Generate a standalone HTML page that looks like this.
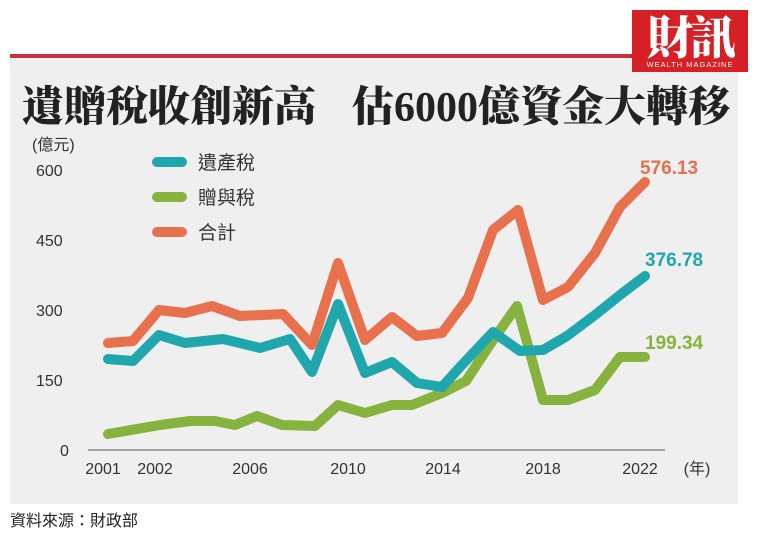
<!DOCTYPE html>
<html><head><meta charset="utf-8"><style>
body{margin:0;width:763px;height:539px;background:#fff;position:relative;overflow:hidden;font-family:"Liberation Sans","Noto Sans CJK TC",sans-serif}
.panel{position:absolute;left:10px;top:56px;width:728px;height:448px;background:#efefef}
.red{position:absolute;left:10px;top:54px;width:630px;height:4px;background:#c8303a}
.logo{position:absolute;left:632px;top:10px;width:116px;height:62px;background:#d71f26;color:#fff;text-align:center}
.logo .a{font-family:"Noto Serif CJK SC",serif;font-weight:900;font-size:46px;line-height:50px;letter-spacing:-3px}
.logo .b{font-size:7.5px;letter-spacing:1px;line-height:9px}
.title{position:absolute;left:22px;top:74px;font-family:"Liberation Serif","Noto Serif CJK SC",serif;font-weight:900;font-size:42px;color:#222;white-space:nowrap;letter-spacing:0px}
.src{position:absolute;left:10px;top:507px;font-size:16px;color:#222}
</style></head><body>
<div class="panel"></div><div class="red"></div>
<div class="logo"><div class="a">財訊</div><div class="b">WEALTH MAGAZINE</div></div>
<div class="title">遺贈稅收創新高<span style="display:inline-block;width:36px"></span>估6000億資金大轉移</div>
<svg width="763" height="539" style="position:absolute;left:0;top:0" font-family="Liberation Sans,Noto Sans CJK TC,sans-serif">
<g font-size="16" fill="#333">
<text x="32" y="150">(億元)</text>
<text x="36" y="176">600</text><text x="36" y="246">450</text><text x="36" y="316">300</text><text x="36" y="386">150</text><text x="60" y="456">0</text>
<g text-anchor="middle"><text x="103" y="474">2001</text><text x="155" y="474">2002</text><text x="250" y="474">2006</text><text x="348" y="474">2010</text><text x="443" y="474">2014</text><text x="543" y="474">2018</text><text x="640" y="474">2022</text><text x="697" y="474">(年)</text></g>
</g>
<line x1="88" y1="450" x2="665" y2="450" stroke="#888" stroke-width="1.5"/>
<g fill="none" stroke-width="10" stroke-linejoin="round" stroke-linecap="round">
<polyline stroke="#86b33d" points="108,434 160,425 190,421 215,421 235,425 257,416 282,425 315,426 338,405 365,413 392,405 412,405 442,393 466,381 493,340 517,306 543,400 568,400 595,390 620,357 645,357"/>
<polyline stroke="#1fa7ad" points="108,359 133,361 159,335 185,343 223,339 260,348 290,339 312,372 338,304 365,373 392,362 417,383 442,387 460,367 493,332 520,351 543,350 567,336 595,315 620,295 645,276"/>
<polyline stroke="#e8704d" points="108,343 133,341 159,310 185,313 212,306 240,316 283,314 312,345 338,263 365,340 392,317 417,336 442,333 468,298 493,230 518,210 543,300 568,287 595,253 620,207 645,182"/>
<line x1="157" y1="162" x2="182" y2="162" stroke="#1fa7ad"/>
<line x1="157" y1="197" x2="182" y2="197" stroke="#86b33d"/>
<line x1="157" y1="232" x2="182" y2="232" stroke="#e8704d"/>
</g>
<g font-size="19" fill="#333"><text x="198" y="169">遺產稅</text><text x="198" y="204">贈與稅</text><text x="198" y="239">合計</text></g>
<g font-size="19" font-weight="bold"><text x="640" y="174" fill="#e8704d">576.13</text><text x="645" y="266" fill="#1fa7ad">376.78</text><text x="645" y="349" fill="#86b33d">199.34</text></g>
</svg>
<div class="src">資料來源：財政部</div>
</body></html>
